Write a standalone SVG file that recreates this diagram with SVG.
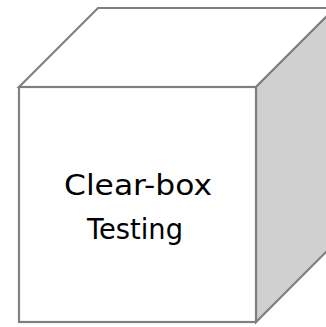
<svg xmlns="http://www.w3.org/2000/svg" width="326" height="327" viewBox="0 0 326 327">
<style>
.edge{stroke:#808080;stroke-width:2.2;stroke-linejoin:miter}
.lbl{font-family:"DejaVu Sans","Liberation Sans",sans-serif;font-size:29px;fill:#000;text-anchor:middle}
</style>
<rect width="326" height="327" fill="#fff"/>
<g id="cube">
<polygon class="edge" points="19,87 98,8 335,8 256,87" fill="#fff"/>
<polygon class="edge" points="256,87 335,8 335,243 256,322" fill="#d0d0d0"/>
<rect class="edge" x="19" y="87" width="237" height="235" fill="#fff"/>
<text class="lbl" x="138" y="195" textLength="148" lengthAdjust="spacingAndGlyphs">Clear-box</text>
<text class="lbl" x="135" y="239" textLength="96" lengthAdjust="spacingAndGlyphs">Testing</text>
</g>
</svg>
